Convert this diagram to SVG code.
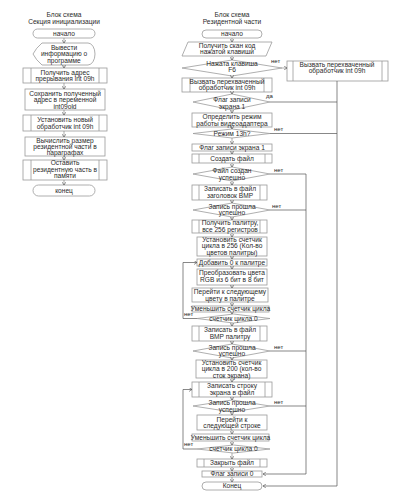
<svg xmlns="http://www.w3.org/2000/svg" width="400" height="499" viewBox="0 0 400 499">
<defs>
<marker id="ah" markerUnits="userSpaceOnUse" markerWidth="4" markerHeight="4" refX="3" refY="2" orient="auto"><path d="M0,0 L3,2 L0,4" fill="none" stroke="#555" stroke-width="0.6"/></marker>
<style>
.t{font-family:"Liberation Sans",Arial,sans-serif;font-size:6.6px;fill:#2a2a2a;text-anchor:middle}
.b{fill:#fff;stroke:#9a9a9a;stroke-width:0.8}
.c{fill:none;stroke:#555;stroke-width:0.7}
.a{fill:none;stroke:#777;stroke-width:0.6;marker-end:url(#ah)}
.l{font-family:"Liberation Sans",Arial,sans-serif;font-size:6px;fill:#222}
</style>
</defs>
<rect width="400" height="499" fill="#fff"/>

<g id="title-left">
<text class="t" x="64" y="17">Блок схема</text>
<text class="t" x="64" y="24">Секция инициализации</text>
</g>
<g id="title-right">
<text class="t" x="232" y="17">Блок схема</text>
<text class="t" x="232" y="24">Резидентной части</text>
</g>

<g id="L1"><rect class="b" x="33" y="29" width="62" height="9" rx="4.5"/><text class="t" x="64" y="35.8">начало</text></g>
<g id="L2"><path class="b" d="M42,43 H88 A7,11 0 0 1 88,65 H42 Q36,60 33,54 Q36,48 42,43 Z"/>
<text class="t" x="64" y="49.5">Вывести</text><text class="t" x="64" y="56">информацию о</text><text class="t" x="64" y="62.5">программе</text></g>
<g id="L3"><rect class="b" x="23" y="68" width="84" height="15"/><path class="b" d="M31,68 V83 M99,68 V83"/>
<text class="t" x="65" y="74.5">Получить адрес</text><text class="t" x="65" y="81">прерывания int 09h</text></g>
<g id="L4"><rect class="b" x="25" y="89" width="80" height="21"/>
<text class="t" x="65" y="96">Сохранить полученный</text><text class="t" x="65" y="102.3">адрес в переменной</text><text class="t" x="65" y="108.6">int09old</text></g>
<g id="L5"><rect class="b" x="23" y="115" width="84" height="16"/><path class="b" d="M31,115 V131 M99,115 V131"/>
<text class="t" x="65" y="122">Установить новый</text><text class="t" x="65" y="128.5">обработчик int 09h</text></g>
<g id="L6"><rect class="b" x="25" y="137" width="80" height="19"/>
<text class="t" x="65" y="142.5">Вычислить размер</text><text class="t" x="65" y="148.8">резидентной части в</text><text class="t" x="65" y="155">параграфах</text></g>
<g id="L7"><rect class="b" x="23" y="160" width="84" height="20"/><path class="b" d="M31,160 V180 M99,160 V180"/>
<text class="t" x="65" y="165.3">Оставить</text><text class="t" x="65" y="171.6">резидентную часть в</text><text class="t" x="65" y="177.9">памяти</text></g>
<g id="L8"><rect class="b" x="33" y="185" width="62" height="11" rx="5.5"/><text class="t" x="64" y="192.8">конец</text></g>

<g id="R1"><rect class="b" x="202" y="30" width="60" height="8" rx="4"/><text class="t" x="232" y="36.3">начало</text></g>
<g id="R2"><path class="b" d="M188,42 H272 L266,56 H182 Z"/>
<text class="t" x="227" y="48">Получить скан код</text><text class="t" x="227" y="54.3">нажатой клавиши</text></g>
<g id="R3"><path class="b" d="M182,68 L232,60 L282,68 L232,76 Z"/>
<text class="t" x="232" y="65.5">Нажата клавиша</text><text class="t" x="232" y="72">F6</text></g>
<g id="R3b"><rect class="b" x="287" y="61" width="101" height="20"/><path class="b" d="M293,61 V81 M382,61 V81"/>
<text class="t" x="337" y="66.5">Вызвать перехваченный</text><text class="t" x="337" y="73.3">обработчик int 09h</text></g>
<g id="R4"><rect class="b" x="182" y="78" width="90" height="14"/><path class="b" d="M190,78 V92 M264,78 V92"/>
<text class="t" x="227" y="83.5">Вызвать перехваченный</text><text class="t" x="227" y="90">обработчик int 09h</text></g>
<g id="R5"><path class="b" d="M193,102 L232,94 L270,102 L232,110 Z"/>
<text class="t" x="232" y="101.5">Флаг записи</text><text class="t" x="232" y="108.5">экрана 1</text></g>
<g id="R6"><rect class="b" x="192" y="113" width="80" height="14"/>
<text class="t" x="232" y="119.2">Определить режим</text><text class="t" x="232" y="125.5">работы видеоадаптера</text></g>
<g id="R7"><path class="b" d="M193,133.5 L232,129 L270,133.5 L232,138 Z"/>
<text class="t" x="232" y="135.8">Режим 13h?</text></g>
<g id="R8"><rect class="b" x="192" y="144" width="80" height="7"/>
<text class="t" x="232" y="149.8">Флаг записи экрана 1</text></g>
<g id="R9"><rect class="b" x="192" y="154" width="80" height="9"/><path class="b" d="M199,154 V163 M265,154 V163"/>
<text class="t" x="232" y="160.8">Создать файл</text></g>
<g id="R10"><path class="b" d="M193,174 L232,167 L270,174 L232,181 Z"/>
<text class="t" x="232" y="173.3">Файл создан</text><text class="t" x="232" y="180">успешно</text></g>
<g id="R11"><rect class="b" x="192" y="185" width="75" height="15"/><path class="b" d="M199,185 V200 M260,185 V200"/>
<text class="t" x="230" y="191.3">Записать в файл</text><text class="t" x="230" y="197.5">заголовок BMP</text></g>
<g id="R12"><path class="b" d="M193,210 L232,203 L270,210 L232,217 Z"/>
<text class="t" x="232" y="208.5">Запись прошла</text><text class="t" x="232" y="215">успешно</text></g>
<g id="R13"><rect class="b" x="192" y="220" width="75" height="13"/><path class="b" d="M199,220 V233 M260,220 V233"/>
<text class="t" x="230" y="225.3">Получить палитру,</text><text class="t" x="230" y="231.5">все 256 регистров</text></g>
<g id="R14"><rect class="b" x="197" y="237" width="70" height="19"/>
<text class="t" x="232" y="241.5">Установить счетчик</text><text class="t" x="232" y="248">цикла в 256 (Кол-во</text><text class="t" x="232" y="254.5">цветов палитры)</text></g>
<g id="R15"><rect class="b" x="197" y="259" width="70" height="7"/>
<text class="t" x="232" y="264.8">Добавить 0 к палитре</text></g>
<g id="R16"><rect class="b" x="197" y="269" width="70" height="16"/>
<text class="t" x="232" y="275.3">Преобразовать цвета</text><text class="t" x="232" y="282">RGB из 6 бит в 8 бит</text></g>
<g id="R17"><rect class="b" x="192" y="288" width="76" height="14"/>
<text class="t" x="230" y="294.2">Перейти к следующему</text><text class="t" x="230" y="300.5">цвету в палитре</text></g>
<g id="R18"><rect class="b" x="192" y="306" width="77" height="6"/>
<text class="t" x="230.5" y="311">Уменьшить счетчик цикла</text></g>
<g id="R19"><path class="b" d="M197,318.5 L233.5,314 L270,318.5 L233.5,323 Z"/>
<text class="t" x="233.5" y="320.8">счетчик цикла 0</text></g>
<g id="R20"><rect class="b" x="192" y="326" width="75" height="15"/><path class="b" d="M199,326 V341 M260,326 V341"/>
<text class="t" x="230" y="332.3">Записать в файл</text><text class="t" x="230" y="338.8">BMP палитру</text></g>
<g id="R21"><path class="b" d="M193,351 L232,344 L270,351 L232,358 Z"/>
<text class="t" x="232" y="349.5">Запись прошла</text><text class="t" x="232" y="356">успешно</text></g>
<g id="R22"><rect class="b" x="196" y="360" width="71" height="18"/>
<text class="t" x="231.5" y="365">Установить счетчик</text><text class="t" x="231.5" y="371.3">цикла в 200 (кол-во</text><text class="t" x="231.5" y="377.6">сток экрана)</text></g>
<g id="R23"><rect class="b" x="192" y="382" width="80" height="15"/><path class="b" d="M199,382 V397 M265,382 V397"/>
<text class="t" x="232" y="388">Записать строку</text><text class="t" x="232" y="394.5">экрана в файл</text></g>
<g id="R24"><path class="b" d="M193,406 L232,400 L270,406 L232,412 Z"/>
<text class="t" x="232" y="405.3">Запись прошла</text><text class="t" x="232" y="411.5">успешно</text></g>
<g id="R25"><rect class="b" x="197" y="415" width="70" height="15"/>
<text class="t" x="232" y="421.5">Перейти к</text><text class="t" x="232" y="428">следующей строке</text></g>
<g id="R26"><rect class="b" x="192" y="434" width="77" height="7"/>
<text class="t" x="230.5" y="439.8">Уменьшить счетчик цикла</text></g>
<g id="R27"><path class="b" d="M197,449 L233.5,445 L270,449 L233.5,453 Z"/>
<text class="t" x="233.5" y="451.2">счетчик цикла 0</text></g>
<g id="R28"><rect class="b" x="197" y="459" width="70" height="8"/><path class="b" d="M204,459 V467 M260,459 V467"/>
<text class="t" x="232" y="465.3">Закрыть файл</text></g>
<g id="R29"><rect class="b" x="202" y="471" width="60" height="6"/>
<text class="t" x="232" y="476.3">Флаг записи 0</text></g>
<g id="R30"><rect class="b" x="202" y="482" width="60" height="8" rx="4"/>
<text class="t" x="232" y="488.3">Конец</text></g>

<g id="connectors">
<path class="a" d="M64,38 V43"/>
<path class="a" d="M64,65 V68"/>
<path class="a" d="M64,83 V89"/>
<path class="a" d="M64,110 V115"/>
<path class="a" d="M64,131 V137"/>
<path class="a" d="M64,156 V160"/>
<path class="a" d="M64,180 V185"/>

<path class="a" d="M232,38 V42"/>
<path class="a" d="M232,56 V60"/>
<path class="a" d="M232,76 V78"/>
<path class="a" d="M232,92 V94"/>
<path class="a" d="M232,110 V113"/>
<path class="a" d="M232,127 V129"/>
<path class="a" d="M232,138 V144"/>
<path class="a" d="M232,151 V154"/>
<path class="a" d="M232,163 V167"/>
<path class="a" d="M232,181 V185"/>
<path class="a" d="M232,200 V203"/>
<path class="a" d="M232,217 V220"/>
<path class="a" d="M232,233 V237"/>
<path class="a" d="M232,256 V259"/>
<path class="a" d="M232,266 V269"/>
<path class="a" d="M232,285 V288"/>
<path class="a" d="M232,302 V306"/>
<path class="a" d="M232,312 V314"/>
<path class="a" d="M232,323 V326"/>
<path class="a" d="M232,341 V344"/>
<path class="a" d="M232,358 V360"/>
<path class="a" d="M232,378 V382"/>
<path class="a" d="M232,397 V400"/>
<path class="a" d="M232,412 V415"/>
<path class="a" d="M232,430 V434"/>
<path class="a" d="M232,441 V445"/>
<path class="a" d="M232,453 V459"/>
<path class="a" d="M232,467 V471"/>
<path class="a" d="M232,477 V482"/>

<path class="a" d="M282,68 H287"/>
<path class="c" d="M337,81 V486 H263" marker-end="url(#ah)"/>
<path class="c" d="M270,102 H337"/>
<path class="c" d="M270,133.5 H337"/>
<path class="c" d="M270,174 H306 V474 H263" marker-end="url(#ah)"/>
<path class="c" d="M270,210 H306"/>
<path class="c" d="M270,351 H306"/>
<path class="c" d="M270,406 H306"/>
<path class="c" d="M197,318.5 H183 V262.5 H197" marker-end="url(#ah)"/>
<path class="c" d="M197,449 H183 V389.5 H192" marker-end="url(#ah)"/>

<text class="l" x="271" y="63">нет</text>
<text class="l" x="266" y="98">да</text>
<text class="l" x="274" y="131">нет</text>
<text class="l" x="274" y="172">нет</text>
<text class="l" x="272" y="208">нет</text>
<text class="l" x="184" y="316">нет</text>
<text class="l" x="274" y="349">нет</text>
<text class="l" x="274" y="404">нет</text>
<text class="l" x="184" y="446">нет</text>
</g>
</svg>
